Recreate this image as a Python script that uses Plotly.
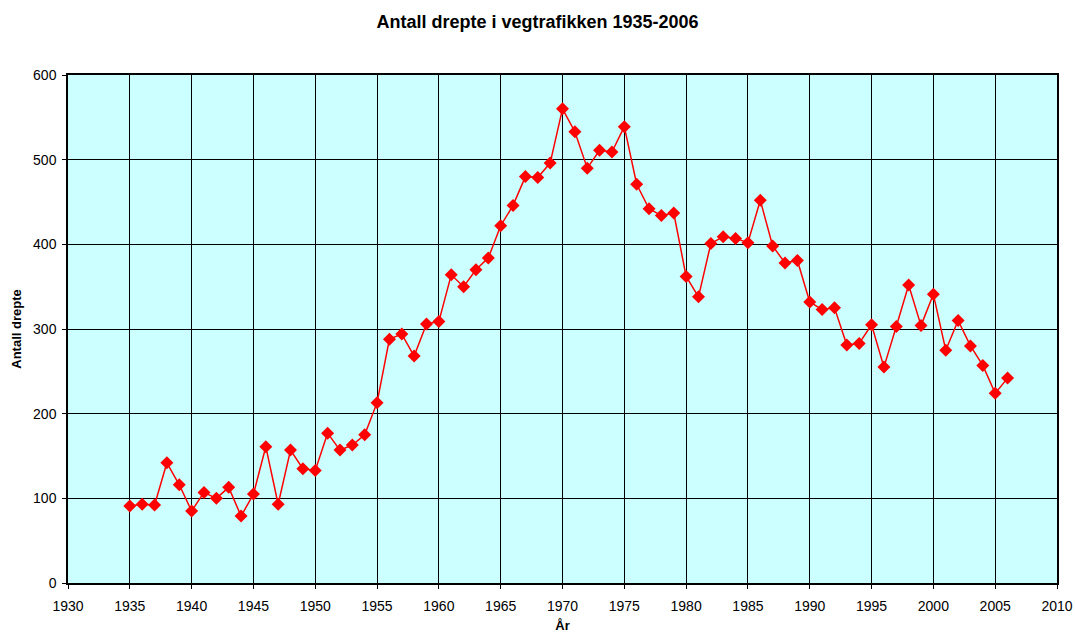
import plotly.graph_objects as go

years = list(range(1935, 2007))
deaths = [91, 93, 92, 142, 116, 85, 107, 100, 113, 79,
          105, 161, 93, 157, 135, 133, 177, 157, 163, 175,
          213, 288, 294, 268, 306, 309, 364, 350, 370, 384,
          422, 446, 480, 479, 496, 560, 533, 490, 511, 509,
          539, 471, 442, 434, 437, 362, 338, 401, 409, 407,
          402, 452, 398, 378, 381, 332, 323, 325, 281, 283,
          305, 255, 303, 352, 304, 341, 275, 310, 280, 257,
          224, 242]

title = "Antall drepte i vegtrafikken 1935-2006"
x_title = "År"
y_title = "Antall drepte"

font = "Arial, Liberation Sans, sans-serif"

fig = go.Figure(go.Scatter(
    x=years, y=deaths, mode="lines+markers",
    line=dict(color="#FF0000", width=1.5),
    marker=dict(symbol="diamond", size=10, color="#FF0000"),
))

fig.update_layout(
    width=1075, height=633,
    margin=dict(l=68, r=18, t=75, b=50, autoexpand=False),
    paper_bgcolor="white", plot_bgcolor="#CCFFFF",
    showlegend=False,
    font=dict(family=font, size=14, color="black"),
    title=dict(text="<b>" + title + "</b>", x=0.5, xanchor="center",
               y=1 - 22 / 633, yanchor="middle", font=dict(size=18)),
)
fig.update_xaxes(
    range=[1930, 2010], dtick=5, tick0=1930,
    showgrid=True, gridcolor="black", gridwidth=1,
    showline=True, linecolor="black", linewidth=1.5, mirror=True,
    ticks="outside", ticklen=4, tickcolor="black",
    ticklabelstandoff=5,
    zeroline=False, automargin=False,
    title=dict(text="<b>" + x_title + "</b>", font=dict(size=13), standoff=12),
)
fig.update_yaxes(
    range=[0, 600], dtick=100,
    showgrid=True, gridcolor="black", gridwidth=1,
    showline=True, linecolor="black", linewidth=1.5, mirror=True,
    ticks="outside", ticklen=4, tickcolor="black",
    ticklabelstandoff=3,
    zeroline=False, automargin=False,
    title=dict(text="<b>" + y_title + "</b>", font=dict(size=13), standoff=9),
)

fig.write_html(
    "out.html",
    config={"displayModeBar": False},
    post_script="document.body.style.margin='0';document.body.style.padding='0';",
)
